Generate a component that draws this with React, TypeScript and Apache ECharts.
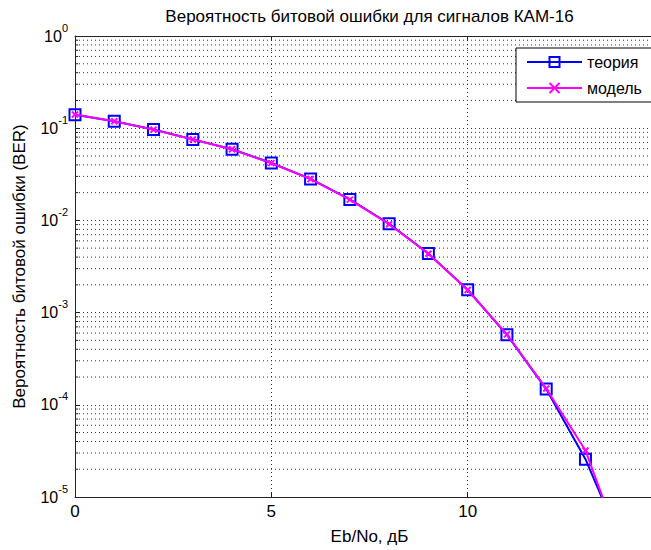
import React, { useEffect, useRef } from "react";
import * as echarts from "echarts";

// ---- data ----
const ebNoDb = [0, 1, 2, 3, 4, 5, 6, 7, 8, 9, 10, 11, 12, 13, 14];
const berTheory = [0.14, 0.119, 0.0968, 0.0756, 0.0592, 0.0419, 0.0282, 0.0169, 0.0092, 0.00437, 0.00177, 0.000574, 0.000148, 0.0000257, 0.0000026];
const berModel = [0.141, 0.119, 0.0965, 0.0755, 0.059, 0.0418, 0.0281, 0.0168, 0.0091, 0.00435, 0.00176, 0.00058, 0.00015, 0.000032, 0.0000022];
const seriesNames = ["теория", "модель"];
const titleText = "Вероятность битовой ошибки для сигналов КАМ-16";
const xAxisName = "Eb/No, дБ";
const yAxisName = "Вероятность битовой ошибки (BER)";
const xRange = [0, 15];
const xStep = 5;
const yDecades = [-5, -4, -3, -2, -1, 0];
const minorMultipliers = [2, 3, 4, 5, 6, 7, 8, 9];

const FONT = '"Liberation Sans", Arial, Helvetica, sans-serif';
const DOT: number[] = [1, 3];
const GRID_COLOR = "#333";
const AXIS_COLOR = "#222";

export default function App() {
  const ref = useRef<HTMLDivElement>(null);
  useEffect(() => {
    if (!ref.current) return;
    const chart = echarts.init(ref.current, undefined, { renderer: "svg" });

    const minorValues: number[] = [];
    yDecades.slice(0, -1).forEach((e) => {
      minorMultipliers.forEach((k) => minorValues.push(k * Math.pow(10, e)));
    });

    // minor grid: one broken polyline through the axes' own scales
    const minorGridData: any[] = [];
    minorValues.forEach((v) => {
      minorGridData.push([xRange[0], v], [xRange[1], v], [xRange[1], "-"]);
    });
    // minor ticks on the left axis (inside)
    const minorTickData: any[] = [];
    minorValues.forEach((v) => {
      minorTickData.push([xRange[0], v], [xRange[0] + 0.08, v], [xRange[0] + 0.08, "-"]);
    });

    const toPairs = (ys: number[]) => ebNoDb.map((x, i) => [x, ys[i]]);

    chart.setOption({
      animation: false,
      backgroundColor: "#fff",
      title: {
        text: titleText,
        left: 369.5,
        top: 8,
        padding: 0,
        textAlign: "center",
        textStyle: { fontFamily: FONT, fontSize: 17, fontWeight: "normal", color: "#000" },
      },
      legend: {
        data: seriesNames,
        orient: "vertical",
        left: 516,
        top: 48,
        padding: [6, 40, 6, 10],
        itemGap: 10,
        itemWidth: 55,
        itemHeight: 12.5,
        borderColor: "#000",
        borderWidth: 1,
        backgroundColor: "#fff",
        selectedMode: false,
        textStyle: { fontFamily: FONT, fontSize: 16, color: "#000" },
      },
      grid: { left: 75, top: 36, right: 36, bottom: 49, containLabel: false },
      xAxis: [
        {
          type: "value",
          min: xRange[0],
          max: xRange[1],
          interval: xStep,
          name: xAxisName,
          nameLocation: "middle",
          nameGap: 31,
          nameTextStyle: { fontFamily: FONT, fontSize: 17, color: "#000" },
          axisLine: { show: true, onZero: false, lineStyle: { color: AXIS_COLOR, width: 1 } },
          axisTick: { show: true, inside: true, length: 5, lineStyle: { color: AXIS_COLOR } },
          axisLabel: { fontFamily: FONT, fontSize: 17, color: "#000", margin: 6, showMaxLabel: false },
          splitLine: { show: true, lineStyle: { type: DOT, color: GRID_COLOR, width: 1 } },
        },
        {
          type: "value",
          position: "top",
          min: xRange[0],
          max: xRange[1],
          interval: xStep,
          axisLine: { show: true, onZero: false, lineStyle: { color: AXIS_COLOR, width: 1 } },
          axisTick: { show: true, inside: true, length: 5, lineStyle: { color: AXIS_COLOR } },
          axisLabel: { show: false },
          splitLine: { show: false },
        },
      ],
      yAxis: {
        type: "log",
        logBase: 10,
        min: Math.pow(10, yDecades[0]),
        max: Math.pow(10, yDecades[yDecades.length - 1]),
        name: yAxisName,
        nameLocation: "middle",
        nameGap: 47,
        nameTextStyle: { fontFamily: FONT, fontSize: 17, color: "#000" },
        axisLine: { show: true, onZero: false, lineStyle: { color: AXIS_COLOR, width: 1 } },
        axisTick: { show: true, inside: true, length: 5, lineStyle: { color: AXIS_COLOR } },
        axisLabel: {
          margin: 7,
          formatter: (v: number) => `{b|10}{s|${Math.round(Math.log10(v))}}`,
          rich: {
            b: { fontFamily: FONT, fontSize: 16, lineHeight: 28, color: "#000" },
            s: { fontFamily: FONT, fontSize: 11, lineHeight: 11, verticalAlign: "top", color: "#000" },
          },
        },
        splitLine: { show: true, lineStyle: { type: DOT, color: GRID_COLOR, width: 1 } },
      },
      series: [
        {
          name: "minor-grid",
          type: "line",
          data: minorGridData,
          z: 1,
          silent: true,
          symbol: "none",
          connectNulls: false,
          clip: true,
          lineStyle: { type: DOT, color: GRID_COLOR, width: 1 },
          emphasis: { disabled: true },
        },
        {
          name: "minor-ticks",
          type: "line",
          data: minorTickData,
          z: 1,
          silent: true,
          symbol: "none",
          connectNulls: false,
          lineStyle: { type: "solid", color: AXIS_COLOR, width: 1 },
          emphasis: { disabled: true },
        },
        {
          name: seriesNames[0],
          type: "line",
          data: toPairs(berTheory),
          z: 3,
          symbol: "rect",
          symbolSize: 11,
          lineStyle: { color: "#0000ff", width: 2 },
          itemStyle: { color: "rgba(0,0,0,0)", borderColor: "#0000ff", borderWidth: 2 },
        },
        {
          name: seriesNames[1],
          type: "line",
          data: toPairs(berModel),
          z: 4,
          symbol: "path://M0,0L10,10M10,0L0,10",
          symbolSize: 6,
          lineStyle: { color: "#ff00ff", width: 2 },
          itemStyle: { color: "rgba(0,0,0,0)", borderColor: "#ff00ff", borderWidth: 2 },
        },
      ],
    });
    return () => chart.dispose();
  }, []);

  return (
    <div style={{ position: "absolute", left: 0, top: 0, width: 651, height: 550, overflow: "hidden", background: "#fff" }}>
      <div ref={ref} style={{ width: 700, height: 550 }} />
    </div>
  );
}
